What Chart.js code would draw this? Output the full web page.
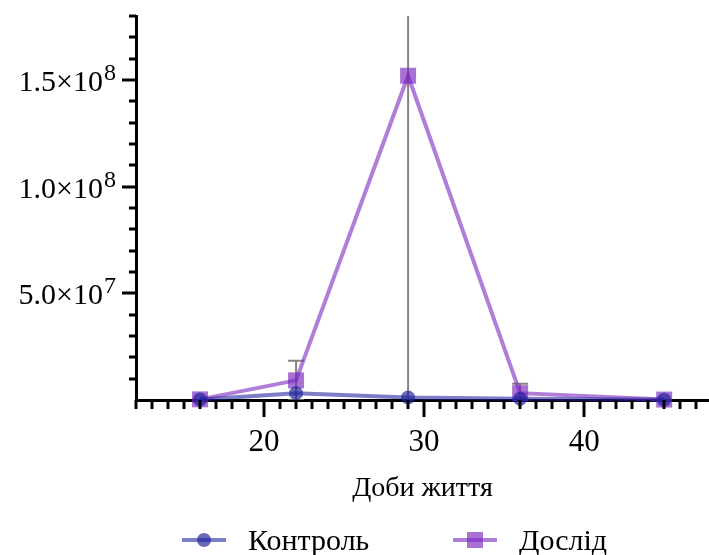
<!DOCTYPE html>
<html>
<head>
<meta charset="utf-8">
<script src="https://cdn.jsdelivr.net/npm/chart.js@4/dist/chart.umd.min.js"></script>
<style>
  html, body { margin: 0; padding: 0; background: #fff; }
  #wrap { position: relative; width: 709px; height: 555px; overflow: hidden; }
  canvas { position: absolute; left: 0; top: 0; }
  .lg { position: absolute; font-family: "Liberation Serif", "Times New Roman", serif; font-size: 30px; line-height: 30px; color: #000; white-space: nowrap; }
  .ln { position: absolute; height: 4px; }
  .mk { position: absolute; }
</style>
</head>
<body>
<div id="wrap">
  <canvas id="c" width="709" height="555"></canvas>
  <div class="ln" style="left:182px; top:538px; width:44px; background:rgba(33,33,157,0.58);"></div>
  <div class="mk" style="left:197px; top:533px; width:14px; height:14px; border-radius:50%; background:rgba(33,33,157,0.68);"></div>
  <div class="lg" style="left:248px; top:525px;">Контроль</div>
  <div class="ln" style="left:453px; top:538px; width:44px; background:rgba(123,40,190,0.6);"></div>
  <div class="mk" style="left:467px; top:532px; width:16px; height:16px; background:rgba(123,40,190,0.66);"></div>
  <div class="lg" style="left:519px; top:525px;">Дослід</div>
</div>
<script>
// ---- data ----
const days = [16, 22, 29, 36, 45];
const controlValues = [2e5, 3.2e6, 1.2e6, 6e5, 1e5];
const experimentValues = [3e5, 9.2e6, 1.52e8, 3.2e6, 2e5];
const experimentErrors = [0, 9.2e6, 1.9e8, 4.4e6, 0];
const seriesNames = ['Контроль', 'Дослід'];
const xMajorTicks = [20, 30, 40];
const yMajorTicks = [5e7, 1e8, 1.5e8];
const yTickMantissas = ['5.0×10', '1.0×10', '1.5×10'];
const yTickExponents = ['7', '8', '8'];
const xTitle = 'Доби життя';

const SERIF = '"Liberation Serif", "Times New Roman", serif';
const ctrlLine = 'rgba(33,33,157,0.58)';
const ctrlPoint = 'rgba(33,33,157,0.68)';
const expLine = 'rgba(123,40,190,0.6)';
const expPoint = 'rgba(123,40,190,0.66)';

const errorBarPlugin = {
  id: 'errorBars',
  beforeDatasetsDraw(chart) {
    const { ctx, chartArea: a, scales: { x, y } } = chart;
    ctx.save();
    ctx.beginPath();
    ctx.rect(a.left, a.top, a.right - a.left, a.bottom - a.top);
    ctx.clip();
    ctx.strokeStyle = 'rgba(110,110,110,0.85)';
    ctx.lineWidth = 2;
    days.forEach((d, i) => {
      const e = experimentErrors[i];
      if (!e) return;
      const px = x.getPixelForValue(d);
      const top = y.getPixelForValue(experimentValues[i] + e);
      const bot = y.getPixelForValue(experimentValues[i] - e);
      ctx.beginPath();
      ctx.moveTo(px, top); ctx.lineTo(px, bot);
      ctx.moveTo(px - 8, top); ctx.lineTo(px + 8, top);
      ctx.moveTo(px - 8, bot); ctx.lineTo(px + 8, bot);
      ctx.stroke();
    });
    ctx.restore();
  }
};

const tickPlugin = {
  id: 'customTicks',
  afterDraw(chart) {
    const { ctx, chartArea: a, scales: { x, y } } = chart;
    ctx.save();
    ctx.strokeStyle = '#000';
    ctx.lineWidth = 3;
    ctx.lineCap = 'butt';
    x.ticks.forEach(t => {
      const px = Math.round(x.getPixelForValue(t.value));
      const len = xMajorTicks.includes(t.value) ? 17 : 9;
      ctx.beginPath();
      ctx.moveTo(px, a.bottom); ctx.lineTo(px, a.bottom + len);
      ctx.stroke();
    });
    y.ticks.forEach(t => {
      if (t.value === 0) return;
      const py = Math.round(y.getPixelForValue(t.value));
      const len = yMajorTicks.includes(t.value) ? 14 : 7;
      ctx.beginPath();
      ctx.moveTo(a.left, py); ctx.lineTo(a.left - len, py);
      ctx.stroke();
    });
    // y tick labels with superscript exponents
    ctx.fillStyle = '#000';
    ctx.textBaseline = 'alphabetic';
    yMajorTicks.forEach((v, i) => {
      const py = y.getPixelForValue(v);
      const right = a.left - 20;
      ctx.font = '24px ' + SERIF;
      const ew = ctx.measureText(yTickExponents[i]).width;
      ctx.textAlign = 'left';
      ctx.fillText(yTickExponents[i], right - ew, py);
      ctx.font = '30px ' + SERIF;
      ctx.textAlign = 'right';
      ctx.fillText(yTickMantissas[i], right - ew - 1, py + 11);
    });
    ctx.restore();
  }
};

new Chart(document.getElementById('c'), {
  type: 'line',
  data: {
    datasets: [
      {
        label: seriesNames[0],
        data: days.map((d, i) => ({ x: d, y: controlValues[i] })),
        borderColor: ctrlLine,
        backgroundColor: ctrlPoint,
        borderWidth: 4,
        pointStyle: 'circle',
        pointRadius: 7,
        pointBorderWidth: 0,
        pointBackgroundColor: ctrlPoint,
        tension: 0
      },
      {
        label: seriesNames[1],
        data: days.map((d, i) => ({ x: d, y: experimentValues[i] })),
        borderColor: expLine,
        backgroundColor: expPoint,
        borderWidth: 4,
        pointStyle: 'rect',
        pointRadius: 11.3,
        pointBorderWidth: 0,
        pointBackgroundColor: expPoint,
        tension: 0
      }
    ]
  },
  options: {
    responsive: false,
    animation: false,
    devicePixelRatio: 1,
    clip: false,
    layout: { autoPadding: false, padding: { top: 16, right: 0, bottom: 50, left: 0 } },
    plugins: { legend: { display: false }, tooltip: { enabled: false } },
    scales: {
      x: {
        type: 'linear',
        min: 12,
        max: 47.8,
        afterBuildTicks: s => { const t = []; for (let v = 12; v <= 47; v++) t.push({ value: v }); s.ticks = t; },
        afterFit: s => { s.height = 105; s.paddingLeft = 0; s.paddingRight = 0; },
        grid: { display: false, drawTicks: true, tickLength: 17 },
        border: { display: true, color: '#000', width: 3 },
        ticks: {
          autoSkip: false, maxRotation: 0, padding: 7, color: '#000',
          font: { family: SERIF, size: 31 },
          callback: v => xMajorTicks.includes(v) ? String(v) : ''
        },
        title: { display: true, text: xTitle, color: '#000', font: { family: SERIF, size: 28 }, padding: { top: 0, bottom: 0 } }
      },
      y: {
        min: 0,
        max: 1.8e8,
        afterBuildTicks: s => { const t = []; for (let k = 0; k <= 18; k++) t.push({ value: k * 1e7 }); s.ticks = t; },
        afterFit: s => { s.width = 136; s.paddingTop = 0; s.paddingBottom = 0; },
        grid: { display: false, drawTicks: true, tickLength: 14 },
        border: { display: true, color: '#000', width: 3 },
        ticks: { autoSkip: false, padding: 7, color: '#000', callback: () => '' }
      }
    }
  },
  plugins: [errorBarPlugin, tickPlugin]
});
</script>
</body>
</html>
